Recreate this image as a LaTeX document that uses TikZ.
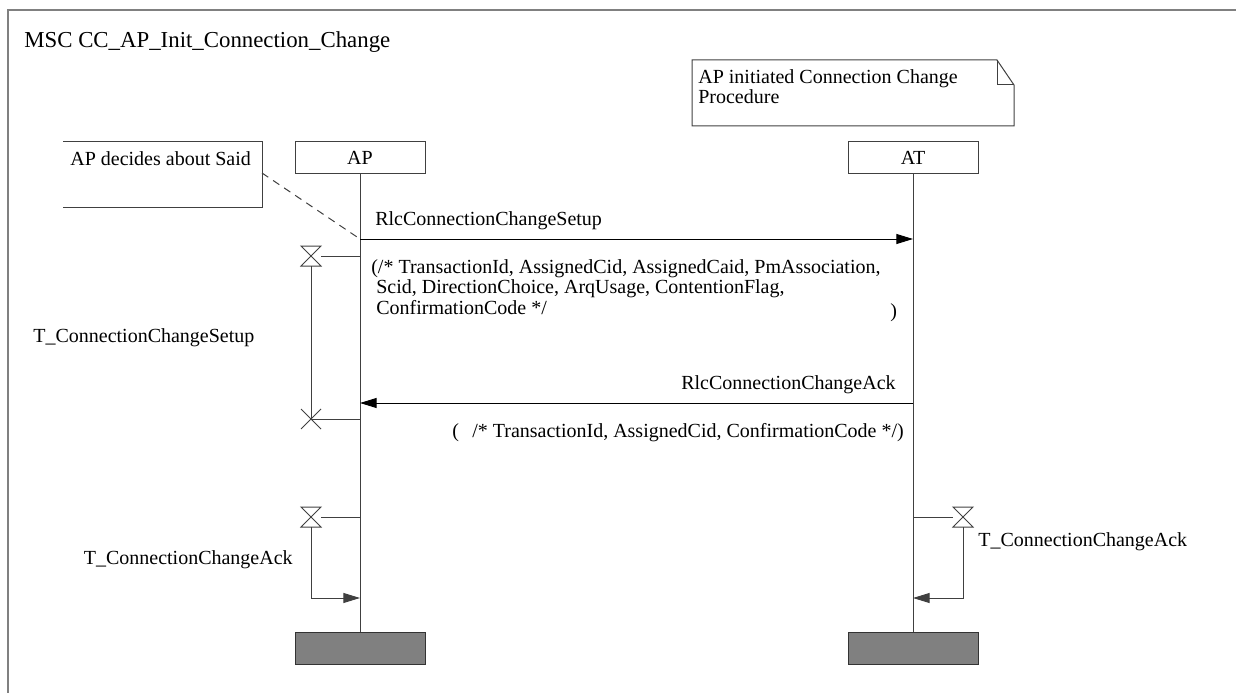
\documentclass[tikz,border=0pt]{standalone}
\usepackage{fontspec}
\setmainfont{Liberation Serif}
\usetikzlibrary{arrows.meta,positioning}

\begin{document}
\begin{tikzpicture}[x=0.6pt, y=-0.6pt,
    every node/.style={font=\fontsize{12pt}{12.3pt}\selectfont, inner sep=0pt},
    inst/.style={draw=black!75, line width=0.6pt, minimum width=78pt, minimum height=19.2pt},
    stopbox/.style={draw=black!80, line width=0.6pt, fill=black!50, minimum width=78pt, minimum height=19.2pt},
    life/.style={black!75, line width=0.6pt},
    msg/.style={-{Triangle[length=10pt,width=6pt]}, line width=0.6pt},
    tmr/.style={black!75, line width=0.6pt}]
  \useasboundingbox (0,0) rectangle (1236,693);
  % frame and title
  \draw[black!50, line width=1.1pt] (8,693) -- (8,10) -- (1236,10);
  \node[anchor=base west, font=\fontsize{13.7pt}{16pt}\selectfont] (title) at (24,48)
    {MSC CC\_AP\_Init\_Connection\_Change};

  % instances
  \node[inst] (ap) at (360,158) {AP};
  \node[inst] (at) at (913,158) {AT};
  \node[stopbox] (apEnd) at (360,648) {};
  \node[stopbox] (atEnd) at (913,648) {};
  \draw[life] (ap.south) -- (apEnd.north);
  \draw[life] (at.south) -- (atEnd.north);

  % note and comment
  \draw[black!75, line width=0.6pt] (692,60) -- (997,60) -- (1014,85) -- (1014,126) -- (692,126) -- cycle;
  \draw[black!75, line width=0.6pt] (997,60) -- (997,85) -- (1014,85);
  \node[anchor=north west, align=left, font=\fontsize{12pt}{12pt}\selectfont] (noteText) at (698,69)
    {AP initiated Connection Change\\Procedure};
  \draw[black!75, line width=0.6pt] (63,142) -- (262,142) -- (262,207) -- (63,207);
  \node[anchor=base west] (cmtText) at (70,166) {AP decides about Said};
  \coordinate (cmtEnd) at (262,173);

  % messages
  \coordinate (apSetup) at (360,239);
  \coordinate (atSetup) at (913,239);
  \coordinate (atAck) at (913,403);
  \coordinate (apAck) at (360,403);
  \draw[dash pattern=on 4.5pt off 3.5pt, black!75, line width=0.6pt] (cmtEnd) -- (apSetup);
  \draw[msg] (apSetup) -- (atSetup);
  \node[anchor=base west] (setupLbl) at (375,225) {RlcConnectionChangeSetup};
  \node[anchor=north west, align=left] (setupPar) at (371,259)
    {(/* TransactionId, AssignedCid, AssignedCaid, PmAssociation,\\
     \ Scid, DirectionChoice, ArqUsage, ContentionFlag,\\
     \ ConfirmationCode */};
  \node[anchor=base west] (setupEnd) at (890,317) {)};
  \draw[msg] (atAck) -- (apAck);
  \node[anchor=base east] (ackLbl) at (896,389) {RlcConnectionChangeAck};
  \node[anchor=base west] (ackPar) at (452,437)
    {(\hspace{8pt}/* TransactionId, AssignedCid, ConfirmationCode */)};

  % timers
  \coordinate (t1) at (311,256);
  \coordinate (x1) at (311,419);
  \coordinate (t2) at (311,517);
  \coordinate (t3) at (963,517);
  \coordinate (apT1) at (360,256);
  \coordinate (apX1) at (360,419);
  \coordinate (apT2) at (360,517);
  \coordinate (apT2e) at (360,598);
  \coordinate (atT3) at (913,517);
  \coordinate (atT3e) at (913,598);
  \foreach \c in {t1,t2,t3}
    \draw[tmr] (\c) ++(-10,-10) -- ++(20,0) -- ++(-20,20) -- ++(20,0) -- cycle;
  \draw[tmr] (x1) ++(-10,-10) -- ++(20,20) (x1) ++(10,-10) -- ++(-20,20);
  \draw[tmr] ([xshift=6pt]t1) -- (apT1);
  \draw[tmr] ([yshift=-6pt]t1) -- (x1) -- (apX1);
  \draw[tmr] ([xshift=6pt]t2) -- (apT2);
  \draw[tmr, msg] ([yshift=-6pt]t2) |- (apT2e);
  \draw[tmr] (atT3) -- ([xshift=-6pt]t3);
  \draw[tmr, msg] ([yshift=-6pt]t3) |- (atT3e);
  \node[anchor=base west] (t1Lbl) at (33,342) {T\_ConnectionChangeSetup};
  \node[anchor=base east] (t2Lbl) at (293,564) {T\_ConnectionChangeAck};
  \node[anchor=base west] (t3Lbl) at (978,546) {T\_ConnectionChangeAck};
\end{tikzpicture}
\end{document}
